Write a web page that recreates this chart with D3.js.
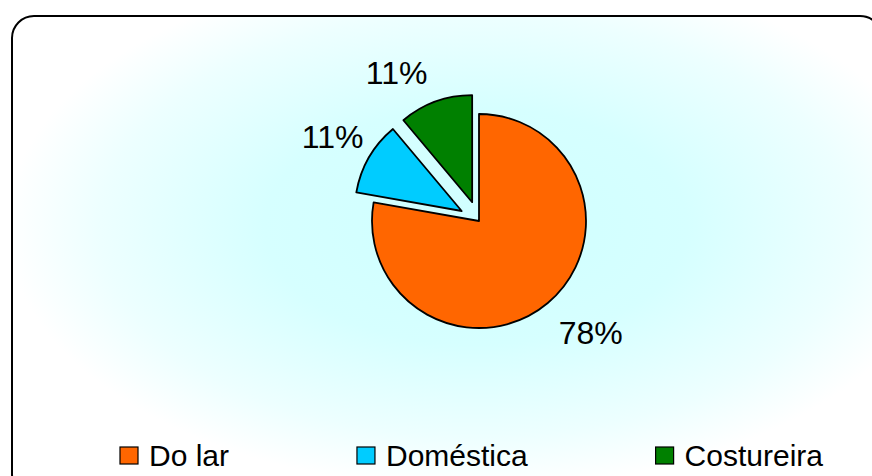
<!DOCTYPE html>
<html>
<head>
<meta charset="utf-8">
<script src="https://cdn.jsdelivr.net/npm/d3@7"></script>
<style>
  body { margin: 0; background: #fff; }
  svg { display: block; font-family: "Liberation Sans", Arial, sans-serif; }
</style>
</head>
<body>
<svg id="chart" width="872" height="476"></svg>
<script>
// Data
var categories = ["Do lar", "Doméstica", "Costureira"];
var counts = [7, 1, 1];
var labels = ["78%", "11%", "11%"];
var colors = ["#ff6600", "#00ccff", "#008000"];
var exploded = [false, true, true];

var cx = 479, cy = 221, R = 107;
var EXPLODE = 20;
// label placement: radius and angle nudge (degrees) per slice
var labelRadius = [158, 169, 170];
var labelNudge = [-5, 0, -9];

var svg = d3.select("#chart");

// background gradient
var defs = svg.append("defs");
var grad = defs.append("radialGradient")
    .attr("id", "bg")
    .attr("gradientUnits", "userSpaceOnUse")
    .attr("cx", 476).attr("cy", 226).attr("r", 470)
    .attr("gradientTransform", "translate(476,226) scale(1,0.56) translate(-476,-226)");
grad.append("stop").attr("offset", "0").attr("stop-color", "#cfffff");
grad.append("stop").attr("offset", "0.45").attr("stop-color", "#d6ffff");
grad.append("stop").attr("offset", "0.8").attr("stop-color", "#edffff");
grad.append("stop").attr("offset", "1").attr("stop-color", "#ffffff");

// frame (runs off the right / bottom edges)
svg.append("rect")
    .attr("x", 12).attr("y", 16)
    .attr("width", 870).attr("height", 480)
    .attr("rx", 22).attr("ry", 22)
    .attr("fill", "url(#bg)")
    .attr("stroke", "#000")
    .attr("stroke-width", 2);

// PIE
var pie = d3.pie().sort(null).value(function(d) { return d; });
var arcs = pie(counts);
var arc = d3.arc().innerRadius(0).outerRadius(R);

var g = svg.append("g").attr("transform", "translate(" + cx + "," + cy + ")");

function offset(d, i) {
  if (!exploded[i]) return [0, 0];
  var a = (d.startAngle + d.endAngle) / 2;
  return [Math.sin(a) * EXPLODE, -Math.cos(a) * EXPLODE];
}

g.selectAll(".slice")
    .data(arcs)
    .enter().append("path")
    .attr("class", "slice")
    .attr("d", arc)
    .attr("transform", function(d, i) {
      var o = offset(d, i);
      return "translate(" + o[0] + "," + o[1] + ")";
    })
    .attr("fill", function(d, i) { return colors[i]; })
    .attr("stroke", "#000")
    .attr("stroke-width", 1.8)
    .attr("stroke-linejoin", "round");

function labelPos(d, i) {
  var a = (d.startAngle + d.endAngle) / 2 + labelNudge[i] * Math.PI / 180;
  return [Math.sin(a) * labelRadius[i], -Math.cos(a) * labelRadius[i]];
}

g.selectAll(".label")
    .data(arcs)
    .enter().append("text")
    .attr("class", "label")
    .attr("x", function(d, i) { return labelPos(d, i)[0]; })
    .attr("y", function(d, i) { return labelPos(d, i)[1]; })
    .attr("text-anchor", "middle")
    .attr("dy", "0.36em")
    .attr("font-size", 32)
    .attr("fill", "#000")
    .text(function(d, i) { return labels[i]; });

// LEGEND  (equal gaps between entries, from x=120 to x=823)
var entries = svg.selectAll(".legend-entry")
    .data(categories)
    .enter().append("g")
    .attr("class", "legend-entry");

entries.append("rect")
    .attr("y", 447)
    .attr("width", 18).attr("height", 17)
    .attr("fill", function(d, i) { return colors[i]; })
    .attr("stroke", "#000")
    .attr("stroke-width", 1.2);

entries.append("text")
    .attr("x", 29)
    .attr("y", 466)
    .attr("font-size", 30)
    .attr("fill", "#000")
    .text(function(d) { return d; });

var widths = [];
entries.select("text").each(function() { widths.push(29 + this.getComputedTextLength()); });
var left = 120, right = 823;
var gap = (right - left - d3.sum(widths)) / (widths.length - 1);
var xs = [], acc = left;
widths.forEach(function(w) { xs.push(acc); acc += w + gap; });
entries.attr("transform", function(d, i) { return "translate(" + xs[i] + ",0)"; });
</script>
</body>
</html>
